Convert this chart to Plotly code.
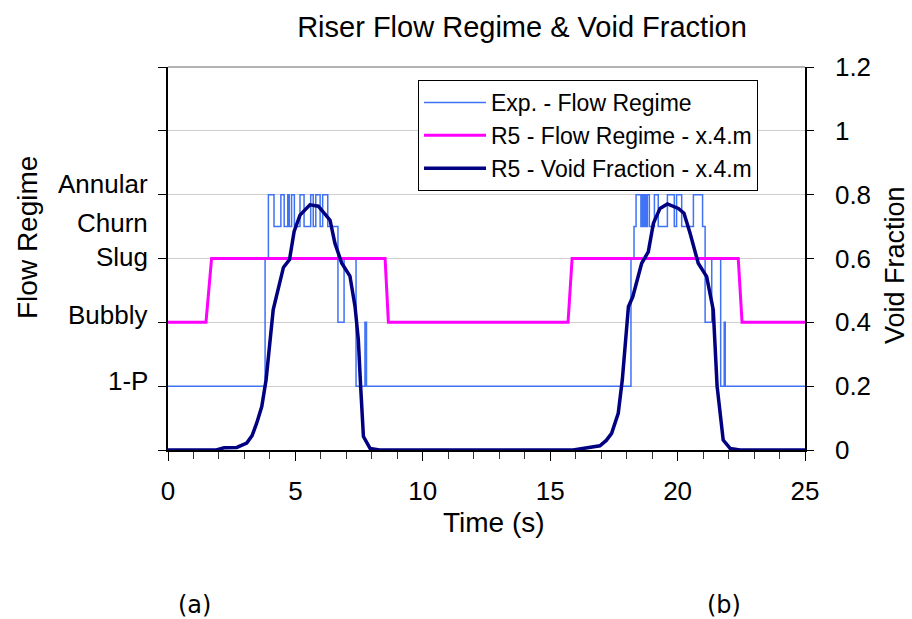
import plotly.graph_objects as go

# ---- data -------------------------------------------------------------
# Flow regime levels on the shared 0-1.2 scale
regime_names = ["1-P", "Bubbly", "Slug", "Churn", "Annular"]
regime_levels = [0.2, 0.4, 0.6, 0.7, 0.8]
level_of = dict(zip(regime_names, regime_levels))

# Experimental flow regime (step changes, time in s)
exp_time = [0.0, 3.81, 3.94, 4.16, 4.43, 4.56, 4.70, 4.76, 4.85, 4.96,
            5.18, 5.34, 5.60, 5.70, 5.80, 5.97, 6.07, 6.27, 6.67, 6.91,
            7.38, 7.73, 7.79,
            18.17, 18.29, 18.37, 18.56, 18.62, 18.65, 18.71, 18.76, 18.81, 18.89,
            19.09, 19.24, 19.60, 19.87, 19.96, 20.16, 20.62, 20.98, 21.08, 21.34,
            21.69, 21.83, 21.87, 25.0]
exp_regime = ["1-P", "Slug", "Annular", "Churn", "Annular", "Churn", "Annular", "Churn", "Annular", "Churn",
              "Annular", "Churn", "Annular", "Churn", "Annular", "Churn", "Annular", "Churn", "Bubbly", "Slug",
              "1-P", "Bubbly", "1-P",
              "Slug", "Churn", "Annular", "Churn", "Annular", "Churn", "Annular", "Churn", "Annular", "Churn",
              "Annular", "Churn", "Annular", "Churn", "Annular", "Churn", "Annular", "Churn", "Bubbly", "Slug",
              "1-P", "Bubbly", "1-P", "1-P"]

# RELAP5 flow regime at x.4.m
r5_time = [0.0, 1.49, 1.71, 8.52, 8.65, 15.70, 15.86, 22.38, 22.53, 25.0]
r5_regime = ["Bubbly", "Bubbly", "Slug", "Slug", "Bubbly", "Bubbly", "Slug", "Slug", "Bubbly", "Bubbly"]

# RELAP5 void fraction at x.4.m
void_time = [0, 1.9, 2.2, 2.7, 3.09, 3.3, 3.48, 3.68, 3.85, 4.0,
             4.13, 4.53, 4.77, 4.95, 5.18, 5.57, 5.90, 6.36, 6.55, 6.82,
             7.14, 7.34, 7.47, 7.56, 7.67, 7.93, 8.3, 15.9, 16.37, 16.95,
             17.2, 17.41, 17.67, 17.83, 18.07, 18.24, 18.59, 18.85, 19.05, 19.31,
             19.60, 20.03, 20.25, 20.49, 20.81, 21.14, 21.40, 21.55, 21.79, 22.06,
             22.45, 25]
void_frac = [0, 0, 0.007, 0.008, 0.022, 0.045, 0.084, 0.136, 0.22, 0.345,
             0.44, 0.572, 0.597, 0.685, 0.736, 0.768, 0.764, 0.72, 0.648, 0.585,
             0.545, 0.45, 0.345, 0.2, 0.042, 0.005, 0, 0, 0.007, 0.013,
             0.03, 0.052, 0.115, 0.22, 0.449, 0.48, 0.585, 0.621, 0.71, 0.757,
             0.771, 0.757, 0.742, 0.679, 0.585, 0.543, 0.439, 0.2, 0.031, 0.005,
             0, 0]

void_ticks = [0, 0.2, 0.4, 0.6, 0.8, 1.0, 1.2]
time_ticks = [0, 5, 10, 15, 20, 25]

# ---- figure -----------------------------------------------------------
W, H = 912, 619
L, R, T, B = 168, 107, 67, 169
FONT = "Liberation Sans, Arial, sans-serif"


def px_x(px):
    return (px - L) / (W - L - R)


def px_y(py):
    return (H - B - py) / (H - T - B)


fig = go.Figure()

fig.add_trace(go.Scatter(
    x=exp_time, y=[level_of[r] for r in exp_regime],
    mode="lines", line=dict(color="#3f72f5", width=1.5, shape="hv"),
    name="Exp. - Flow Regime"))

fig.add_trace(go.Scatter(
    x=r5_time, y=[level_of[r] for r in r5_regime],
    mode="lines", line=dict(color="#ff00ff", width=3),
    name="R5 - Flow Regime - x.4.m"))

fig.add_trace(go.Scatter(
    x=void_time, y=void_frac, yaxis="y2",
    mode="lines", line=dict(color="#000080", width=3.5),
    name="R5 - Void Fraction - x.4.m"))

axis_font = dict(family=FONT, size=26, color="black")

fig.update_layout(
    width=W, height=H,
    margin=dict(l=L, r=R, t=T, b=B, pad=0),
    paper_bgcolor="white", plot_bgcolor="white",
    font=dict(family=FONT, color="black"),
    title=dict(text="Riser Flow Regime & Void Fraction",
               font=dict(family=FONT, size=29, color="black"),
               x=px_x(522), xref="paper", xanchor="center",
               y=1 - 27 / H, yref="container", yanchor="middle"),
    showlegend=True,
    legend=dict(x=px_x(418), y=px_y(80), xanchor="left", yanchor="top",
                bgcolor="white", bordercolor="black", borderwidth=1,
                font=dict(family=FONT, size=23, color="black"),
                itemwidth=62, tracegroupgap=0),
    xaxis=dict(range=[0, 25], tickvals=time_ticks, ticks="outside", ticklen=9,
               tickcolor="black", tickwidth=1, showline=True, linecolor="black",
               linewidth=1.5, showgrid=False, zeroline=False,
               tickfont=axis_font, ticklabelstandoff=8,
               minor=dict(dtick=1, ticks="outside", ticklen=7,
                          tickcolor="#333", showgrid=False)),
    xaxis2=dict(range=[0, 25], overlaying="x", anchor="y", tickvals=time_ticks,
                ticks="inside", ticklen=8, tickcolor="black", showticklabels=False,
                showline=False, showgrid=False, zeroline=False),
    yaxis=dict(range=[0, 1.2], tickvals=void_ticks, ticks="outside", ticklen=8,
               tickcolor="black", showticklabels=False, showline=True,
               linecolor="black", linewidth=1.5, showgrid=True,
               gridcolor="#cfcfcf", gridwidth=1, zeroline=False),
    yaxis2=dict(range=[0, 1.2], overlaying="y", side="right", anchor="x",
                tickvals=void_ticks, ticks="outside", ticklen=7,
                tickcolor="black", showline=True, linecolor="black",
                linewidth=1.5, showgrid=False, zeroline=False,
                tickfont=axis_font, ticklabelstandoff=16),
    yaxis3=dict(range=[0, 1.2], overlaying="y", side="right", anchor="x",
                tickvals=void_ticks, ticks="inside", ticklen=12,
                tickcolor="black", showticklabels=False, showline=False,
                showgrid=False, zeroline=False),
)

# top border of the plotting area
fig.add_shape(type="line", xref="paper", yref="paper", x0=0, x1=1, y0=1, y1=1,
              line=dict(color="#9a9a9a", width=1.5), layer="below")

# regime names beside the left axis
label_shift = {"1-P": 5, "Bubbly": 7, "Slug": 2, "Churn": 4, "Annular": 11}
for name, lev in zip(regime_names, regime_levels):
    fig.add_annotation(text=name, xref="paper", yref="y", x=px_x(150), y=lev,
                       xanchor="right", yanchor="middle", yshift=label_shift[name],
                       showarrow=False, font=dict(family=FONT, size=26, color="black"))

# axis titles
fig.add_annotation(text="Flow Regime", textangle=-90, xref="paper", yref="paper",
                   x=px_x(27), y=px_y(238), xanchor="center", yanchor="middle",
                   showarrow=False, font=dict(family=FONT, size=28, color="black"))
fig.add_annotation(text="Void Fraction", textangle=-90, xref="paper", yref="paper",
                   x=px_x(895), y=px_y(265), xanchor="center", yanchor="middle",
                   showarrow=False, font=dict(family=FONT, size=27, color="black"))
fig.add_annotation(text="Time (s)", xref="paper", yref="paper",
                   x=px_x(494), y=px_y(522), xanchor="center", yanchor="middle",
                   showarrow=False, font=dict(family=FONT, size=28, color="black"))

# panel markers
for tag, cx in (("(a)", 194), ("(b)", 724)):
    fig.add_annotation(text=tag, xref="paper", yref="paper",
                       x=px_x(cx), y=px_y(605), xanchor="center", yanchor="middle",
                       showarrow=False,
                       font=dict(family="DejaVu Sans, sans-serif", size=24, color="black"))

fig.write_html("out.html")
